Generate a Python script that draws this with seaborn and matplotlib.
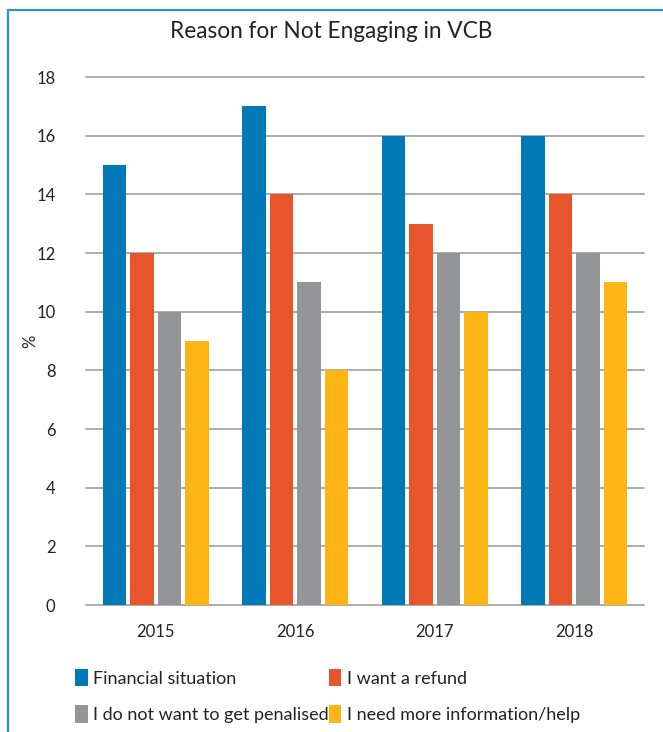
import matplotlib
matplotlib.use("Agg")
import matplotlib.pyplot as plt
from matplotlib.lines import Line2D
from matplotlib.patches import Patch
import seaborn as sns
import pandas as pd

years = ["2015", "2016", "2017", "2018"]
financial = [15, 17, 16, 16]
refund = [12, 14, 13, 14]
penalised = [10, 11, 12, 12]
info = [9, 8, 10, 11]
series_names = ["Financial situation", "I want a refund",
                "I do not want to get penalised", "I need more information/help"]
colors = ["#0079B7", "#E8542C", "#939598", "#FDB515"]
yticks = [0, 2, 4, 6, 8, 10, 12, 14, 16, 18]

rows = []
for name, vals in zip(series_names, [financial, refund, penalised, info]):
    for y, v in zip(years, vals):
        rows.append({"Year": y, "Series": name, "Value": v})
df = pd.DataFrame(rows)

sns.set_theme(style="white")
plt.rcParams["font.family"] = ["Lato", "DejaVu Sans"]

fig = plt.figure(figsize=(6.63, 7.32), dpi=100)
ax = fig.add_axes([86/663, 1-605/732, (644-86)/663, (605-77)/732])
sns.barplot(data=df, x="Year", y="Value", hue="Series", hue_order=series_names,
            palette=colors, width=0.79, gap=0.15, saturation=1, ax=ax,
            legend=False, errorbar=None, linewidth=0, edgecolor="none")
ax.set_ylim(0, 18)
ax.set_yticks(yticks)
ax.set_yticklabels([str(t) for t in yticks], fontsize=12, color="#222222")
ax.set_xticklabels(years, fontsize=12, color="#222222")
ax.tick_params(axis="both", length=0)
ax.tick_params(axis="y", pad=22)
ax.tick_params(axis="x", pad=14)
for s in ax.spines.values():
    s.set_visible(False)
for t in yticks:
    ax.axhline(t, color="#A6A6A6", lw=1.3, zorder=0, clip_on=False)
ax.set_xlabel("")
ax.set_ylabel("%", fontsize=12, color="#222222", labelpad=4)
ax.yaxis.set_label_coords(-0.085, 0.5)

fig.text(0.5, 1-32/732, "Reason for Not Engaging in VCB", ha="center", va="center",
         fontsize=16.3, color="#222222")

handles = [Patch(facecolor=c, edgecolor="none") for c in colors]
order = [0, 2, 1, 3]
leg = fig.legend([handles[i] for i in order], [series_names[i] for i in order],
                 ncol=2, loc="center left", bbox_to_anchor=(75/663, 1-696/732),
                 frameon=False, fontsize=13.0, handlelength=0.7, handleheight=1.1,
                 handletextpad=0.3, columnspacing=0.0, labelspacing=1.05,
                 borderaxespad=0, borderpad=0)
for t in leg.get_texts():
    t.set_color("#222222")

# frame
fig.add_artist(Line2D([8/663, 8/663], [0, 1-10/732], transform=fig.transFigure,
                      color="#2A8FCF", lw=1.6))
fig.add_artist(Line2D([8/663, 1], [1-10/732, 1-10/732], transform=fig.transFigure,
                      color="#2A8FCF", lw=1.6))

fig.savefig("out.png", dpi=100, facecolor="white")
